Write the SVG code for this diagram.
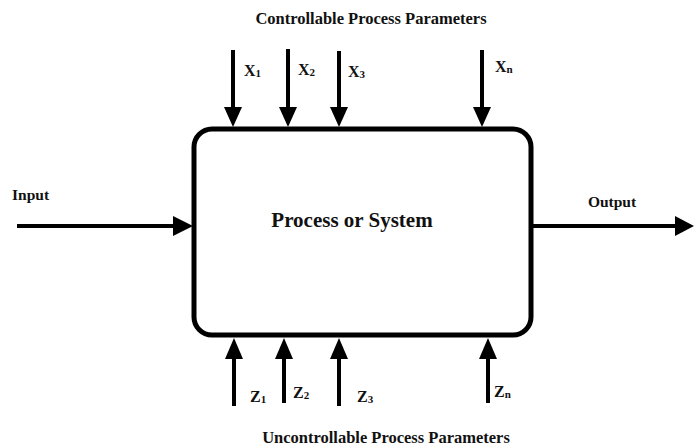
<svg xmlns="http://www.w3.org/2000/svg" width="694" height="447" viewBox="0 0 694 447">
<style>
.t{font-family:"Liberation Serif","Times New Roman",serif;font-weight:bold;fill:#111}
.ln{stroke:#000;stroke-width:4;fill:none}
.hd{fill:#000}
.v{font-size:16px}
.sub{font-size:11px}
</style>
<rect width="694" height="447" fill="#fff"/>
<g id="box">
<rect x="194" y="129" width="337" height="206" rx="18" ry="18" fill="none" stroke="#000" stroke-width="5"/>
<text class="t" x="352" y="227" font-size="21" text-anchor="middle">Process or System</text>
</g>
<g id="titles">
<text class="t" x="371" y="24" font-size="16.5" text-anchor="middle">Controllable Process Parameters</text>
<text class="t" x="386" y="443" font-size="16.5" text-anchor="middle">Uncontrollable Process Parameters</text>
</g>
<g id="connectors">
<line class="ln" x1="233" y1="50" x2="233" y2="110"/><polygon class="hd" points="224,107 242,107 233,127"/>
<line class="ln" x1="288" y1="49" x2="288" y2="110"/><polygon class="hd" points="279,107 297,107 288,127"/>
<line class="ln" x1="339" y1="51" x2="339" y2="110"/><polygon class="hd" points="330,107 348,107 339,127"/>
<line class="ln" x1="482" y1="50" x2="482" y2="110"/><polygon class="hd" points="473,107 491,107 482,127"/>
<line class="ln" x1="234" y1="406" x2="234" y2="356"/><polygon class="hd" points="225,359 243,359 234,338"/>
<line class="ln" x1="284" y1="403" x2="284" y2="356"/><polygon class="hd" points="275,359 293,359 284,338"/>
<line class="ln" x1="339" y1="406" x2="339" y2="356"/><polygon class="hd" points="330,359 348,359 339,338"/>
<line class="ln" x1="488" y1="403" x2="488" y2="356"/><polygon class="hd" points="479,359 497,359 488,338"/>
<line class="ln" x1="17" y1="226" x2="176" y2="226"/><polygon class="hd" points="173,216 173,236 193,226"/>
<line class="ln" x1="533" y1="226" x2="678" y2="226"/><polygon class="hd" points="675,216 675,236 694,226"/>
</g>
<g id="labels">
<text class="t" x="12" y="200" font-size="15.5">Input</text>
<text class="t" x="612" y="207" font-size="15.5" text-anchor="middle">Output</text>
<text class="t v" x="244" y="76">X<tspan class="sub" dy="1">1</tspan></text>
<text class="t v" x="298" y="75">X<tspan class="sub" dy="1">2</tspan></text>
<text class="t v" x="348" y="77">X<tspan class="sub" dy="1">3</tspan></text>
<text class="t v" x="495" y="72">X<tspan class="sub" dy="1">n</tspan></text>
<text class="t v" x="250" y="402">Z<tspan class="sub" dy="1">1</tspan></text>
<text class="t v" x="293" y="398">Z<tspan class="sub" dy="1">2</tspan></text>
<text class="t v" x="357" y="402">Z<tspan class="sub" dy="1">3</tspan></text>
<text class="t v" x="494" y="397">Z<tspan class="sub" dy="1">n</tspan></text>
</g>
</svg>
